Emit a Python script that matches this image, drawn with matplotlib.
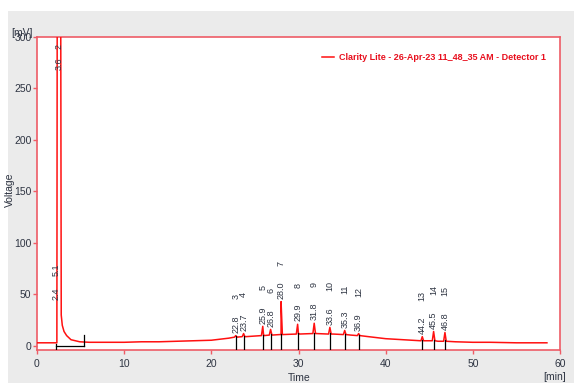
import numpy as np
import matplotlib
matplotlib.use('Agg')
from matplotlib import pyplot as plt
from matplotlib.lines import Line2D
from matplotlib.patches import Rectangle

plt.rcParams['font.family'] = ['Liberation Sans', 'DejaVu Sans']

# detector baseline (min, mV) including the solvent front
base_t = [0, 2.28, 2.32, 2.72, 2.78, 2.9, 3.1, 3.4, 3.9, 4.9, 6, 8, 10, 12, 14, 16, 18, 20,
          21, 22, 24, 26, 28, 30, 32, 34, 36, 38, 40, 42, 44, 46, 48, 50, 52, 55, 58.5]
base_mv = [3, 3, 340, 340, 30, 20, 14, 10, 6, 4, 3.5, 3.5, 3.5, 4, 4, 4.5, 5, 5.5,
           6.5, 7.5, 9, 10, 11, 11.5, 12, 11.5, 10.5, 9, 7, 6, 5, 4.5, 4, 3.5, 3.5, 3, 3]

# integrated peaks on the hump
peak_no = ['3', '4', '5', '6', '7', '8', '9', '10', '11', '12', '13', '14', '15']
peak_rt = [22.8, 23.7, 25.9, 26.8, 28.0, 29.9, 31.8, 33.6, 35.3, 36.9, 44.2, 45.5, 46.8]
peak_base = [8.5, 9, 10, 10.5, 11, 11.5, 12, 11.5, 11, 10, 5, 5, 4.5]
peak_top = [10, 12, 19, 16, 43, 21, 22, 18, 15, 12, 9, 14, 13]

# peaks in the solvent front
front_no = ['5.1', '2']
front_rt = [2.4, 3.6]

x_ticks = [0, 10, 20, 30, 40, 50, 60]
y_ticks = [0, 50, 100, 150, 200, 250, 300]

legend_text = 'Clarity Lite - 26-Apr-23 11_48_35 AM - Detector 1'

# merge baseline with the peak spikes
pts = list(zip(base_t, base_mv))
for rt, b, top in zip(peak_rt, peak_base, peak_top):
    pts += [(rt - 0.15, b), (rt, top), (rt + 0.15, b)]
pts.sort(key=lambda p: p[0])
tr_t = [p[0] for p in pts]
tr_mv = [p[1] for p in pts]

W, H = 574, 383
fig = plt.figure(figsize=(W / 100, H / 100), dpi=100, facecolor='white')
fig.patches.append(Rectangle((8 / W, 0), 1 - 8 / W, 1 - 11 / H, transform=fig.transFigure,
                             facecolor='#ebebeb', edgecolor='none', zorder=-10))
ax = fig.add_axes([37 / W, 1 - 349.5 / H, 523 / W, 312.5 / H])
ax.set_facecolor('white')

frame_red = '#ee5c66'
txt_col = '#2e3442'
lab_fs = 6.5

ax.plot(tr_t, tr_mv, color='#ff1010', lw=1.1, zorder=3)

# baseline markers
ax.plot([2.2, 5.4], [0, 0], color='black', lw=0.9, zorder=4)
ax.plot([2.2, 2.2], [-3, 2], color='black', lw=0.9, zorder=4)
ax.plot([5.4, 5.4], [0, 11], color='black', lw=0.9, zorder=4)
for rt, b in zip(peak_rt, peak_base):
    ax.plot([rt, rt], [-3.5, b + 1], color='black', lw=0.9, zorder=4)

# peak labels
for no, rt, top in zip(peak_no, peak_rt, peak_top):
    ax.annotate(f'{rt:.1f}', (rt, top), xytext=(0, 2), textcoords='offset points',
                rotation=90, ha='center', va='bottom', fontsize=lab_fs, color=txt_col)
    ax.annotate(no, (rt, top), xytext=(0, 26), textcoords='offset points',
                rotation=90, ha='center', va='bottom', fontsize=lab_fs, color=txt_col)
ax.text(2.2, 45, f'{front_rt[0]:.1f}', rotation=90, ha='center', va='bottom',
        fontsize=lab_fs, color=txt_col)
ax.text(2.2, 68, front_no[0], rotation=90, ha='center', va='bottom',
        fontsize=lab_fs, color=txt_col)
ax.text(2.5, 268, f'{front_rt[1]:.1f}', rotation=90, ha='center', va='bottom',
        fontsize=lab_fs, color=txt_col)
ax.text(2.5, 288, front_no[1], rotation=90, ha='center', va='bottom',
        fontsize=lab_fs, color=txt_col)

ax.set_xlim(0, 60)
ax.set_ylim(-3.5, 300)
ax.set_xticks(x_ticks)
ax.set_yticks(y_ticks)
for s in ax.spines.values():
    s.set_color(frame_red)
    s.set_linewidth(1.2)
ax.tick_params(colors=frame_red, labelcolor=txt_col, labelsize=7.5, length=3, width=1)
ax.tick_params(axis='x', pad=4)
ax.tick_params(axis='y', pad=1)

fig.text(299 / W, 1 - 378 / H, 'Time', ha='center', va='center', fontsize=7.5, color=txt_col)
fig.text(555 / W, 1 - 377 / H, '[min]', ha='center', va='center', fontsize=7.5, color=txt_col)
fig.text(10 / W, 1 - 190 / H, 'Voltage', ha='center', va='center', rotation=90,
         fontsize=7.5, color=txt_col)
fig.text(22 / W, 1 - 33 / H, '[mV]', ha='center', va='center', fontsize=7.5, color=txt_col)

h = Line2D([], [], color='#ff1010', lw=1.1)
leg = ax.legend([h], [legend_text], loc='upper right', bbox_to_anchor=(0.988, 0.975),
                frameon=False, handlelength=1.3, handletextpad=0.5,
                prop={'family': ['Liberation Sans'], 'weight': 'bold', 'size': 6.5})
for t in leg.get_texts():
    t.set_color('#e8101e')

fig.savefig('out.png', dpi=100)
